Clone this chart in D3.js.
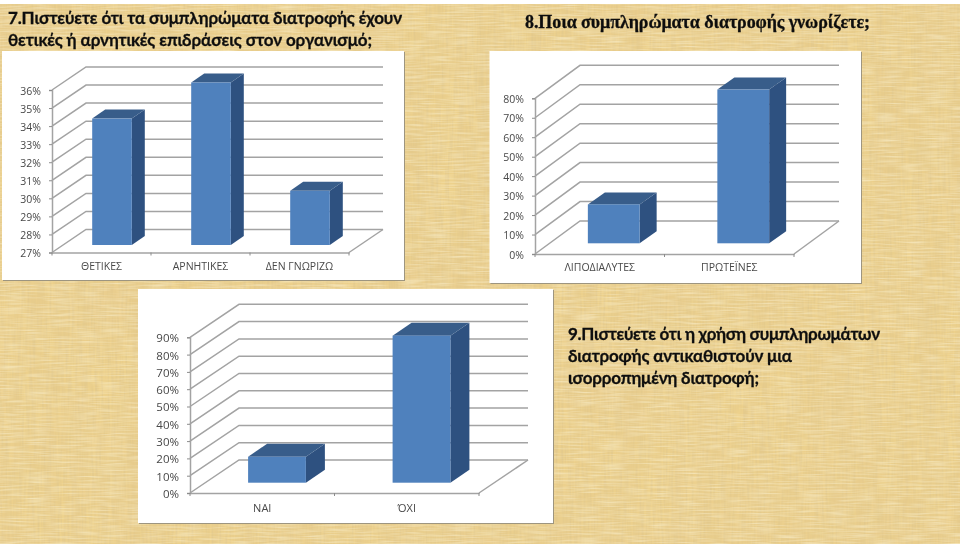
<!DOCTYPE html>
<html lang="el">
<head>
<meta charset="utf-8">
<script src="https://cdnjs.cloudflare.com/ajax/libs/d3/7.9.0/d3.min.js"></script>
<style>html,body{margin:0;padding:0;background:#fff;overflow:hidden}svg{display:block}</style>
</head>
<body>
<svg id="c" width="960" height="548"></svg>
<script>
// ---- data ----
const supplementEffectCategories = ["ΘΕΤΙΚΕΣ", "ΑΡΝΗΤΙΚΕΣ", "ΔΕΝ ΓΝΩΡΙΖΩ"];
const supplementEffectValues = [34, 36, 30];
const supplementEffectTicks = [27, 28, 29, 30, 31, 32, 33, 34, 35, 36];

const knownSupplementCategories = ["ΛΙΠΟΔΙΑΛΥΤΕΣ", "ΠΡΩΤΕΪΝΕΣ"];
const knownSupplementValues = [20, 79];
const knownSupplementTicks = [0, 10, 20, 30, 40, 50, 60, 70, 80];

const replaceDietCategories = ["ΝΑΙ", "ΌΧΙ"];
const replaceDietValues = [15, 85];
const replaceDietTicks = [0, 10, 20, 30, 40, 50, 60, 70, 80, 90];

const title7 = ["7.Πιστεύετε ότι τα συμπληρώματα διατροφής έχουν", "θετικές ή αρνητικές επιδράσεις στον οργανισμό;"];
const title8 = ["8.Ποια συμπληρώματα διατροφής γνωρίζετε;"];
const title9 = ["9.Πιστεύετε ότι η χρήση συμπληρωμάτων", "διατροφής αντικαθιστούν μια", "ισορροπημένη διατροφή;"];

// ---- page ----
const svg = d3.select("#c");
const defs = svg.append("defs");
const soft = defs.append("filter").attr("id", "soft").attr("x", "-2%").attr("y", "-2%").attr("width", "104%").attr("height", "104%");
soft.append("feGaussianBlur").attr("stdDeviation", 0.35);

function texture(id, freq, octaves, seed, rgb, aScale, aBias) {
  const f = defs.append("filter").attr("id", id).attr("x", 0).attr("y", 0).attr("width", "100%").attr("height", "100%");
  f.append("feTurbulence").attr("type", "fractalNoise").attr("baseFrequency", freq).attr("numOctaves", octaves).attr("seed", seed);
  f.append("feColorMatrix").attr("type", "matrix").attr("values",
    `0 0 0 0 ${rgb[0]} 0 0 0 0 ${rgb[1]} 0 0 0 0 ${rgb[2]} ${aScale} 0 0 0 ${aBias}`);
}
texture("blotch", "0.01 0.012", 3, 4, [0.82, 0.62, 0.28], 1.6, -0.50);
texture("vert2", "0.07 0.004", 2, 19, [0.80, 0.60, 0.26], 1.8, -0.60);
texture("vert", "0.5 0.03", 2, 7, [0.76, 0.58, 0.26], 1.8, -0.60);
texture("horz", "0.04 0.6", 2, 11, [0.97, 0.89, 0.64], 1.1, -0.42);

const bg = svg.append("g");
const page = { x: 0, y: 4, width: 960, height: 540 };
bg.append("rect").attr("x", page.x).attr("y", page.y).attr("width", page.width).attr("height", page.height).attr("fill", "#edd18c");
["blotch", "vert2", "vert", "horz"].forEach(id => {
  bg.append("rect").attr("x", page.x).attr("y", page.y).attr("width", page.width).attr("height", page.height).attr("filter", `url(#${id})`);
});

const root = svg.append("g").attr("filter", "url(#soft)");

function chart(c) {
  const g = root.append("g");
  g.append("rect").attr("x", c.panel[0] + 1).attr("y", c.panel[1] + 1).attr("width", c.panel[2] - c.panel[0]).attr("height", c.panel[3] - c.panel[1]).attr("fill", "#9d9580");
  g.append("rect").attr("x", c.panel[0]).attr("y", c.panel[1]).attr("width", c.panel[2] - c.panel[0]).attr("height", c.panel[3] - c.panel[1]).attr("fill", "#fff");

  const y = d3.scaleLinear().domain(d3.extent(c.ticks)).range([c.y0, c.y1]);
  const x = d3.scaleBand().domain(c.cats).range([c.x0, c.x1]);
  const xb = d3.scaleBand().domain(c.cats).range([c.x0 + c.ox, c.x1 + c.ox]).paddingInner(0.6).paddingOuter(0.3);
  const grid = "#a3a3a3";

  // back wall and side wall gridlines
  g.append("g").selectAll("path").data(c.ticks).join("path")
    .attr("fill", "none").attr("stroke", grid).attr("stroke-width", 1.5)
    .attr("d", d => `M${c.x0},${y(d)}L${c.x0 + c.dx},${y(d) - c.dy}L${c.x1 + c.dx},${y(d) - c.dy}`);
  // floor
  g.append("path").attr("fill", "none").attr("stroke", grid).attr("stroke-width", 1.5)
    .attr("d", `M${c.x1},${c.y0}L${c.x1 + c.dx},${c.y0 - c.dy}`);

  // value axis
  const ya = g.append("g").attr("transform", `translate(${c.x0},0)`)
    .call(d3.axisLeft(y).tickValues(c.ticks).tickSize(3).tickPadding(8).tickFormat(d => d + "%"));
  ya.select(".domain").attr("stroke", grid).attr("stroke-width", 1.5);
  ya.selectAll(".tick line").attr("stroke", "#8c8c8c");
  ya.selectAll("text").attr("fill", "#484848").attr("font-family", "'Open Sans'").attr("font-size", c.fs).attr("font-weight", 400).attr("transform", "translate(0,0.8)");

  // category axis
  const xa = g.append("g").attr("transform", `translate(0,${c.y0})`)
    .call(d3.axisBottom(x).tickSize(0).tickPadding(c.labelGap));
  xa.select(".domain").attr("stroke", grid).attr("stroke-width", 1.5);
  xa.selectAll("text").attr("fill", "#484848").attr("font-family", "'Open Sans'").attr("font-size", c.catFs).attr("font-weight", 400);
  g.append("g").selectAll("line").data(d3.range(c.cats.length + 1)).join("line")
    .attr("x1", i => c.x0 + i * x.step()).attr("x2", i => c.x0 + i * x.step())
    .attr("y1", c.y0).attr("y2", c.y0 + 3).attr("stroke", "#8c8c8c");

  // bars
  const bars = g.append("g").selectAll("g").data(c.vals).join("g");
  const bx = (d, i) => xb(c.cats[i]);
  const w = xb.bandwidth();
  const base = y(c.ticks[0]) - c.lift;
  bars.append("path").attr("fill", "#2e5180")
    .attr("d", (d, i) => {
      const r = bx(d, i) + w, t = y(d) - c.lift;
      return `M${r},${t}L${r + c.bdx},${t - c.bdy}L${r + c.bdx},${base - c.bdy}L${r},${base}Z`;
    });
  bars.append("path").attr("fill", "#385d8a")
    .attr("d", (d, i) => {
      const l = bx(d, i), t = y(d) - c.lift;
      return `M${l},${t}L${l + c.bdx},${t - c.bdy}L${l + w + c.bdx},${t - c.bdy}L${l + w},${t}Z`;
    });
  bars.append("rect").attr("fill", "#4f81bd")
    .attr("x", bx).attr("width", w)
    .attr("y", d => y(d) - c.lift).attr("height", d => base - (y(d) - c.lift));
}

chart({ panel: [2, 51, 404, 280], cats: supplementEffectCategories, vals: supplementEffectValues, ticks: supplementEffectTicks,
  x0: 52, x1: 349, y0: 252.5, y1: 90, dx: 34, dy: 23, ox: 10.5, lift: 7.5, bdx: 13, bdy: 9, fs: 10.5, catFs: 10.5, labelGap: 10 });
chart({ panel: [489.5, 51, 861, 283], cats: knownSupplementCategories, vals: knownSupplementValues, ticks: knownSupplementTicks,
  x0: 535, x1: 794, y0: 254, y1: 98.3, dx: 45, dy: 33, ox: 14, lift: 10.7, bdx: 17, bdy: 12, fs: 10.5, catFs: 10.5, labelGap: 10 });
chart({ panel: [138, 289, 553, 523], cats: replaceDietCategories, vals: replaceDietValues, ticks: replaceDietTicks,
  x0: 190, x1: 479, y0: 493, y1: 337.3, dx: 49, dy: 33, ox: 14.75, lift: 10.3, bdx: 19, bdy: 13, fs: 11.5, catFs: 11, labelGap: 11 });

// titles
function title(lines, x, ys, widths, family, size) {
  root.append("g").selectAll("text").data(lines).join("text")
    .attr("x", x).attr("y", (d, i) => ys[i])
    .attr("textLength", (d, i) => widths[i]).attr("lengthAdjust", "spacing")
    .attr("font-family", family).attr("font-weight", 700).attr("font-size", size).attr("fill", "#111")
    .attr("stroke", "#111").attr("stroke-width", 0.3)
    .text(d => d);
}
title(title7, 8, [24, 46], [394, 364], "Lato, 'Open Sans'", 17);
title(title8, 525, [28], [345], "'Liberation Serif'", 18);
title(title9, 568, [340, 362, 384], [312, 224, 191], "Lato, 'Open Sans'", 17);
</script>
</body>
</html>
